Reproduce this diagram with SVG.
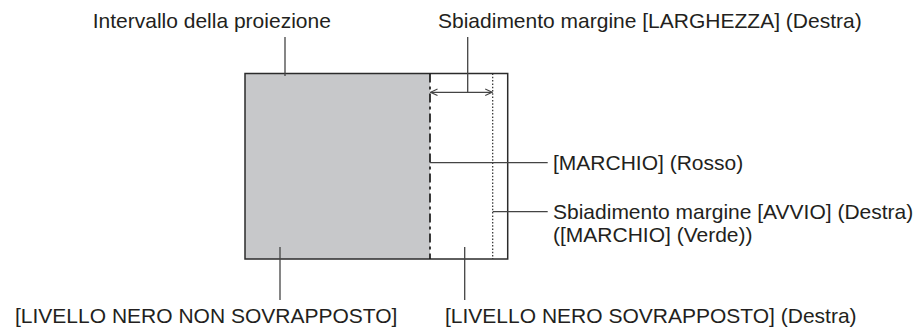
<svg xmlns="http://www.w3.org/2000/svg" width="921" height="329" viewBox="0 0 921 329">
  <style>
    .t { font-family: "Liberation Sans", Arial, sans-serif; font-size: 21px; fill: #231f20; }
    .ln { stroke: #444444; stroke-width: 1.3; fill: none; }
    .frame { stroke: #2b2b2b; stroke-width: 1.5; fill: none; }
  </style>
  <defs>
    <marker id="chev" viewBox="0 0 8 8" refX="7.5" refY="4" markerWidth="8" markerHeight="8" markerUnits="userSpaceOnUse" orient="auto-start-reverse">
      <path d="M0.5,0.8 L7.5,4 L0.5,7.2" fill="none" stroke="#444444" stroke-width="1.1"/>
    </marker>
  </defs>
  <rect width="921" height="329" fill="#ffffff"/>

  <g id="projection-area">
    <rect x="245" y="73.5" width="185" height="185.5" fill="#c7c8ca"/>
    <rect x="245" y="73.5" width="262.7" height="185.5" class="frame"/>
    <line x1="430" y1="73.5" x2="430" y2="259" stroke="#1a1a1a" stroke-width="1.7" stroke-dasharray="9 4 3 4"/>
    <line x1="492.7" y1="73.5" x2="492.7" y2="259" stroke="#2b2b2b" stroke-width="1.2" stroke-dasharray="1.5 1.8"/>
  </g>

  <g id="connectors">
    <line class="ln" x1="285" y1="37" x2="285" y2="76"/>
    <line class="ln" x1="467.7" y1="37" x2="467.7" y2="92.3"/>
    <line class="ln" x1="430.5" y1="92.3" x2="492.2" y2="92.3" marker-start="url(#chev)" marker-end="url(#chev)"/>
    <line class="ln" x1="430" y1="162.7" x2="547.7" y2="162.7"/>
    <line class="ln" x1="492.7" y1="211.7" x2="547.7" y2="211.7"/>
    <line class="ln" x1="280" y1="247" x2="280" y2="300"/>
    <line class="ln" x1="464.7" y1="247" x2="464.7" y2="300"/>
  </g>

  <g id="label-intervallo">
    <text class="t" x="92.7" y="28.3">Intervallo della proiezione</text>
  </g>
  <g id="label-larghezza">
    <text class="t" x="438" y="28">Sbiadimento margine [LARGHEZZA] (Destra)</text>
  </g>
  <g id="label-marchio-rosso">
    <text class="t" x="553" y="170">[MARCHIO] (Rosso)</text>
  </g>
  <g id="label-avvio">
    <text class="t" x="553" y="218.5">Sbiadimento margine [AVVIO] (Destra)</text>
    <text class="t" x="553" y="241.5">([MARCHIO] (Verde))</text>
  </g>
  <g id="label-non-sovrapposto">
    <text class="t" x="15" y="323">[LIVELLO NERO NON SOVRAPPOSTO]</text>
  </g>
  <g id="label-sovrapposto">
    <text class="t" x="445" y="323">[LIVELLO NERO SOVRAPPOSTO] (Destra)</text>
  </g>
</svg>
